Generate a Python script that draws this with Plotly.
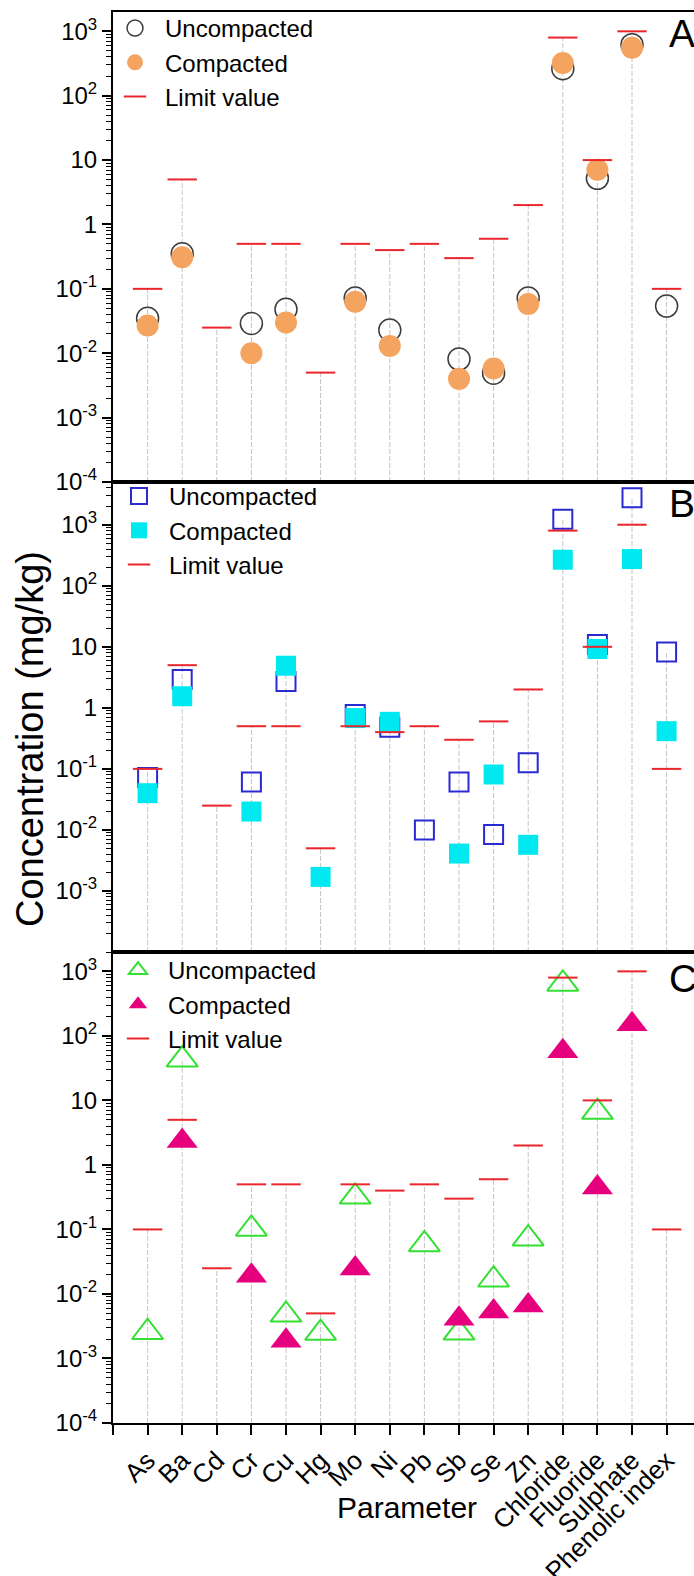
import plotly.graph_objects as go

# ---------------- data ----------------
categories = ["As", "Ba", "Cd", "Cr", "Cu", "Hg", "Mo", "Ni", "Pb", "Sb", "Se", "Zn",
              "Chloride", "Fluoride", "Sulphate", "Phenolic index"]
limit_value = [0.1, 5, 0.025, 0.5, 0.5, 0.005, 0.5, 0.4, 0.5, 0.3, 0.6, 2, 800, 10, 1000, 0.1]

a_uncompacted = [0.035, 0.35, None, 0.029, 0.048, None, 0.072, 0.023, None, 0.0081, 0.0049, 0.072,
                 263, 5.2, 620, 0.054]
a_compacted = [0.027, 0.31, None, 0.010, 0.030, None, 0.063, 0.013, None, 0.0040, 0.0058, 0.058,
               322, 7.1, 557, None]

b_uncompacted = [0.072, 2.9, None, 0.061, 2.7, None, 0.78, 0.48, 0.010, 0.061, 0.0084, 0.126,
                 1230, 10.9, 2760, 8.2]
b_compacted = [0.040, 1.55, None, 0.020, 4.9, 0.0017, 0.68, 0.59, None, 0.0041, 0.081, 0.0057,
               267, 9.2, 274, 0.415]

c_uncompacted = [0.00255, 42.8, None, 0.102, 0.00475, 0.00248, 0.32, None, 0.0586, 0.0025, 0.0166, 0.072,
                 638, 6.6, None, None]
c_compacted = [None, 2.35, None, 0.0192, 0.00188, None, 0.0249, None, None, 0.00411, 0.00535, 0.00664,
               58, 0.448, 151, None]

y_tick_values = [1e-4, 1e-3, 1e-2, 1e-1, 1, 10, 1e2, 1e3]
y_tick_labels = ["10<sup>-4</sup>", "10<sup>-3</sup>", "10<sup>-2</sup>", "10<sup>-1</sup>",
                 "1", "10", "10<sup>2</sup>", "10<sup>3</sup>"]
panel_letters = ["A", "B", "C"]

# ---------------- layout geometry ----------------
W, H = 694, 1576
ML, MR, MT, MB = 113, 0, 12, 153
PW = W - ML - MR
PH = H - MT - MB
FONT = "Liberation Sans, Arial, sans-serif"


def px_x(p):
    return (p - ML) / PW


def px_y(p):
    return (H - MB - p) / PH


x_idx = list(range(len(categories)))
y_bottom = 1e-4

panels = [
    dict(unc=a_uncompacted, com=a_compacted, xa="x", ya="y", legend="legend",
         unc_marker=dict(symbol="circle-open", size=22, color="#3c3c3c", line=dict(width=1.5, color="#3c3c3c")),
         com_marker=dict(symbol="circle", size=22, color="#F4A45F", line=dict(width=0))),
    dict(unc=b_uncompacted, com=b_compacted, xa="x2", ya="y2", legend="legend2",
         unc_marker=dict(symbol="square-open", size=19, color="#2a2ad2", line=dict(width=2, color="#2a2ad2")),
         com_marker=dict(symbol="square", size=20, color="#00E8F0", line=dict(width=0))),
    dict(unc=c_uncompacted, com=c_compacted, xa="x3", ya="y3", legend="legend3",
         unc_marker=dict(symbol="triangle-up-open", size=27, color="#33E033", line=dict(width=2, color="#33E033")),
         com_marker=dict(symbol="triangle-up", size=27, color="#E6007E", line=dict(width=0))),
]

fig = go.Figure()

for p in panels:
    # drop lines
    dx, dy = [], []
    for i in x_idx:
        vals = [v for v in (p["unc"][i], p["com"][i], limit_value[i]) if v is not None]
        dx += [i, i, None]
        dy += [y_bottom, max(vals), None]
    fig.add_trace(go.Scatter(x=dx, y=dy, mode="lines", xaxis=p["xa"], yaxis=p["ya"],
                             line=dict(color="#c4c4c4", width=1, dash="5px,2px"),
                             showlegend=False, hoverinfo="skip"))
    fig.add_trace(go.Scatter(x=x_idx, y=p["unc"], mode="markers", name="Uncompacted",
                             xaxis=p["xa"], yaxis=p["ya"], marker=p["unc_marker"], legend=p["legend"]))
    fig.add_trace(go.Scatter(x=x_idx, y=p["com"], mode="markers", name="Compacted",
                             xaxis=p["xa"], yaxis=p["ya"], marker=p["com_marker"], legend=p["legend"]))
    fig.add_trace(go.Scatter(x=x_idx, y=limit_value, mode="markers", name="Limit value",
                             xaxis=p["xa"], yaxis=p["ya"], legend=p["legend"],
                             marker=dict(symbol="line-ew", size=21, color="#E8262B",
                                         line=dict(width=2, color="#E8262B"))))

# domains (pixel rows): A 12-482, B 482-952, C 952-1423
dom_A = [px_y(482), 1.0]
dom_B = [px_y(952), px_y(482)]
dom_C = [0.0, px_y(952)]

x_range = [-1, -1 + PW / 34.6]

common_x = dict(range=x_range, showline=True, linewidth=2, linecolor="black", mirror=True,
                showgrid=False, zeroline=False, automargin=False)


def yaxis(domain, rng, anchor, tv, tt):
    return dict(type="log", domain=domain, range=rng, anchor=anchor, automargin=False,
                tickmode="array", tickvals=tv, ticktext=tt,
                ticks="outside", ticklen=9, tickwidth=1.5, tickcolor="black",
                showline=True, linewidth=2, linecolor="black",
                showgrid=False, zeroline=False,
                tickfont=dict(size=24, family=FONT, color="black"),
                minor=dict(ticks="outside", ticklen=5, tickwidth=1, tickcolor="black",
                           dtick="D1", showgrid=False))


def legend(x_px, y_px):
    return dict(x=px_x(x_px), y=px_y(y_px), xanchor="left", yanchor="top", bgcolor="rgba(0,0,0,0)",
                font=dict(size=24, family=FONT), itemwidth=50, tracegroupgap=0)


fig.update_layout(
    width=W, height=H,
    margin=dict(l=ML, r=MR, t=MT, b=MB, pad=0, autoexpand=False),
    paper_bgcolor="white", plot_bgcolor="white",
    font=dict(family=FONT, color="black"),
    xaxis=dict(anchor="y", showticklabels=False, ticks="", **common_x),
    xaxis2=dict(anchor="y2", showticklabels=False, ticks="", **common_x),
    xaxis3=dict(anchor="y3", tickmode="array", tickvals=[-1] + x_idx, ticktext=[""] + categories,
                tickangle=-45, ticks="outside", ticklen=10, tickwidth=1.5, tickcolor="black",
                tickfont=dict(size=26, family=FONT, color="black"), **common_x),
    yaxis=yaxis(dom_A, [-4, 3.3], "x", y_tick_values, y_tick_labels),
    yaxis2=yaxis(dom_B, [-4, 3.7], "x2", y_tick_values[1:], y_tick_labels[1:]),
    yaxis3=yaxis(dom_C, [-4, 3.3], "x3", y_tick_values, y_tick_labels),
    legend=legend(105, 6),
    legend2=legend(109, 474),
    legend3=legend(108, 948),
)

annotations = []
for letter, cy in zip(panel_letters, [34, 504, 978]):
    annotations.append(dict(text=letter, x=px_x(667), y=px_y(cy), xref="paper", yref="paper",
                            xanchor="left", yanchor="middle", showarrow=False,
                            font=dict(size=39, family=FONT, color="black")))
annotations.append(dict(text="Concentration (mg/kg)", x=px_x(30), y=px_y(739), xref="paper", yref="paper",
                        xanchor="center", yanchor="middle", textangle=-90, showarrow=False,
                        font=dict(size=38, family=FONT, color="black")))
annotations.append(dict(text="Parameter", x=px_x(407), y=px_y(1507), xref="paper", yref="paper",
                        xanchor="center", yanchor="middle", showarrow=False,
                        font=dict(size=30, family=FONT, color="black")))
fig.update_layout(annotations=annotations)

fig.write_html("out.html")
